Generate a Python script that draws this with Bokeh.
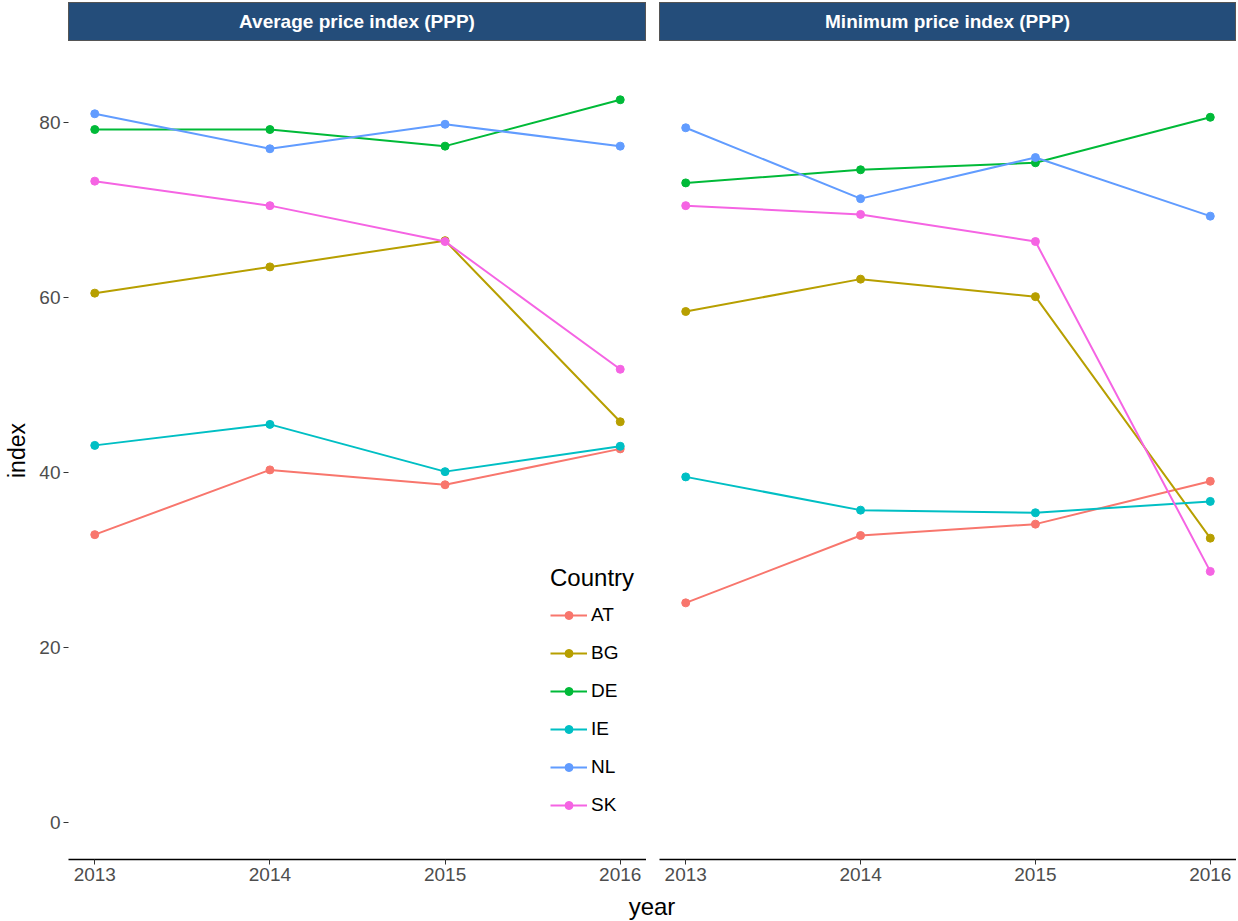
from bokeh.plotting import figure
from bokeh.models import Range1d, FixedTicker, Legend, LegendItem, Div
from bokeh.layouts import column, row
from bokeh.embed import file_html
from bokeh.resources import INLINE

years = [2013, 2014, 2015, 2016]
countries = ["AT", "BG", "DE", "IE", "NL", "SK"]
colors = ["#F8766D", "#B79F00", "#00BA38", "#00BFC4", "#619CFF", "#F564E3"]
facet_titles = ["Average price index (PPP)", "Minimum price index (PPP)"]
y_ticks = [0, 20, 40, 60, 80]

# Average price index (PPP)
avg_at = [32.9, 40.3, 38.6, 42.7]
avg_bg = [60.5, 63.5, 66.5, 45.8]
avg_de = [79.2, 79.2, 77.3, 82.6]
avg_ie = [43.1, 45.5, 40.1, 43.0]
avg_nl = [81.0, 77.0, 79.8, 77.3]
avg_sk = [73.3, 70.5, 66.4, 51.8]

# Minimum price index (PPP)
min_at = [25.1, 32.8, 34.1, 39.0]
min_bg = [58.4, 62.1, 60.1, 32.5]
min_de = [73.1, 74.6, 75.4, 80.6]
min_ie = [39.5, 35.7, 35.4, 36.7]
min_nl = [79.4, 71.3, 76.0, 69.3]
min_sk = [70.5, 69.5, 66.4, 28.7]

avg_series = [avg_at, avg_bg, avg_de, avg_ie, avg_nl, avg_sk]
min_series = [min_at, min_bg, min_de, min_ie, min_nl, min_sk]

FONT = "Liberation Sans"
FRAME_H = 818


def make_fig(width, left_border, show_y):
    p = figure(width=width, height=FRAME_H + 30,
               x_range=Range1d(2012.85, 2016.15), y_range=Range1d(-4.23, 89.26),
               output_backend="svg", toolbar_location=None,
               min_border_left=left_border, min_border_right=0,
               min_border_top=0, min_border_bottom=30,
               y_axis_location="left" if show_y else None)
    p.outline_line_color = None
    p.xgrid.visible = False
    p.ygrid.visible = False
    p.background_fill_color = "white"
    p.border_fill_color = "white"

    xa = p.xaxis[0]
    xa.ticker = FixedTicker(ticks=years)
    xa.axis_line_color = "black"
    xa.axis_line_width = 1.3
    xa.major_tick_line_color = "#333333"
    xa.major_tick_out = 5
    xa.major_tick_in = 0
    xa.minor_tick_line_color = None
    xa.major_label_text_font = FONT
    xa.major_label_text_font_size = "19px"
    xa.major_label_text_color = "#4D4D4D"
    xa.major_label_standoff = 3

    if show_y:
        ya = p.yaxis[0]
        ya.ticker = FixedTicker(ticks=y_ticks)
        ya.axis_line_color = None
        ya.major_tick_line_color = "#333333"
        ya.major_tick_out = 5
        ya.major_tick_in = 0
        ya.minor_tick_line_color = None
        ya.major_label_text_font = FONT
        ya.major_label_text_font_size = "19px"
        ya.major_label_text_color = "#4D4D4D"
        ya.major_label_standoff = 3
        ya.axis_label = "index"
        ya.axis_label_text_font = FONT
        ya.axis_label_text_font_size = "23px"
        ya.axis_label_text_font_style = "normal"
        ya.axis_label_text_color = "black"
        ya.axis_label_standoff = 6
    return p


p_avg = make_fig(646, 68, True)
p_min = make_fig(590, 13, False)

items = []
for name, col, vals in zip(countries, colors, avg_series):
    ln = p_avg.line(years, vals, line_color=col, line_width=2)
    sc = p_avg.scatter(years, vals, size=8, fill_color=col, line_color=col)
    items.append(LegendItem(label=name, renderers=[ln, sc]))

for name, col, vals in zip(countries, colors, min_series):
    p_min.line(years, vals, line_color=col, line_width=2)
    p_min.scatter(years, vals, size=8, fill_color=col, line_color=col)

legend = Legend(items=items, location=(482, 43), title="Country",
                title_text_font=FONT, title_text_font_size="24px",
                title_text_font_style="normal", title_text_color="black",
                label_text_font=FONT, label_text_font_size="19px", label_text_color="black",
                glyph_width=37, glyph_height=20, label_height=20, spacing=16,
                padding=0, margin=0, label_standoff=4, title_standoff=12,
                background_fill_alpha=0, border_line_color=None)
p_avg.add_layout(legend)

strip_style = {"background-color": "#244D7A", "color": "#FFFFFF",
               "font-family": "Liberation Sans, Arial, sans-serif",
               "font-weight": "bold", "font-size": "19px", "text-align": "center",
               "line-height": "37px", "border": "1px solid #555555",
               "box-sizing": "border-box"}
strip_l = Div(text=facet_titles[0], width=578, height=39, margin=(2, 0, 0, 68), styles=strip_style)
strip_r = Div(text=facet_titles[1], width=577, height=39, margin=(2, 0, 0, 13), styles=strip_style)

year_div = Div(text="year", width=1168, height=30, margin=(0, 0, 0, 68),
               styles={"font-family": "Liberation Sans, Arial, sans-serif",
                       "font-size": "24px", "text-align": "center",
                       "line-height": "36px", "color": "black"})

layout = column(row(strip_l, strip_r), row(p_avg, p_min), year_div)

open("out.html", "w").write(file_html(layout, INLINE))
